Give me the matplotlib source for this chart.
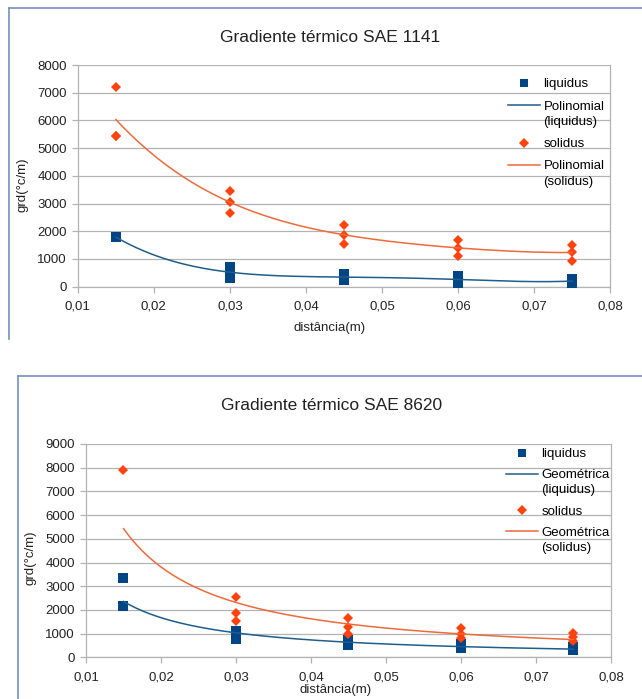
import matplotlib
matplotlib.use('Agg')
import matplotlib.pyplot as plt
import matplotlib.transforms as mtransforms
from matplotlib.legend_handler import HandlerLine2D
from matplotlib.lines import Line2D
from matplotlib.ticker import FuncFormatter
import numpy as np

plt.rcParams['font.family'] = ['Liberation Sans', 'DejaVu Sans']

# SAE 1141 (polynomial trend)
x1_liq = [0.015, 0.015, 0.015, 0.03, 0.03, 0.03, 0.045, 0.045, 0.045, 0.06, 0.06, 0.06, 0.075, 0.075, 0.075]
y1_liq = [1800, 1790, 1780, 330, 520, 720, 230, 350, 460, 130, 280, 370, 100, 220, 290]
x1_sol = [0.015, 0.015, 0.015, 0.03, 0.03, 0.03, 0.045, 0.045, 0.045, 0.06, 0.06, 0.06, 0.075, 0.075, 0.075]
y1_sol = [7200, 5450, 5450, 3450, 3050, 2650, 2220, 1860, 1540, 1690, 1390, 1120, 1490, 1270, 940]

# SAE 8620 (geometric / power trend)
x2_liq = [0.015, 0.015, 0.03, 0.03, 0.03, 0.045, 0.045, 0.045, 0.06, 0.06, 0.06, 0.075, 0.075, 0.075]
y2_liq = [3350, 2150, 760, 900, 1100, 500, 600, 720, 380, 470, 550, 310, 380, 440]
x2_sol = [0.015, 0.03, 0.03, 0.03, 0.045, 0.045, 0.045, 0.06, 0.06, 0.06, 0.075, 0.075, 0.075]
y2_sol = [7900, 2535, 1890, 1535, 1660, 1280, 1000, 1240, 1000, 800, 1020, 850, 700]

x_ticks = [0.01, 0.02, 0.03, 0.04, 0.05, 0.06, 0.07, 0.08]

BLUE = '#004586'
ORANGE = '#ff420e'
BLUE_T = '#1f5d8c'
ORANGE_T = '#ee6a3a'
GRID = '#b3b3b3'
FRAME = '#7390c0'

W, H = 642, 699
fig = plt.figure(figsize=(W / 100, H / 100), dpi=100)


def fx(px):
    return px / W


def fy(py):
    return 1 - py / H


class HandlerUp(HandlerLine2D):
    # put the trend line handle next to the first line of a two-line label
    def create_artists(self, legend, orig_handle, xdescent, ydescent, width, height, fontsize, trans):
        arts = super().create_artists(legend, orig_handle, xdescent, ydescent, width, height, fontsize, trans)
        shift = mtransforms.Affine2D().translate(0, 0.66 * fontsize)
        for a in arts:
            a.set_transform(shift + trans)
        return arts


def trend_poly(x, y, deg=4):
    c = np.polyfit(x, y, deg)
    xs = np.linspace(min(x), max(x), 200)
    return xs, np.polyval(c, xs)


def trend_power(x, y):
    b, a = np.polyfit(np.log(x), np.log(y), 1)
    xs = np.linspace(min(x), max(x), 200)
    return xs, np.exp(a) * xs ** b


def make_chart(rect, xl, yl, xs, ys, trend, ymax, trend_name, leg_xy, leg_space):
    ax = fig.add_axes(rect)
    ax.plot(xl, yl, 's', color=BLUE, ms=7.2, mew=0, zorder=3)
    tx, ty = trend(xl, yl)
    ax.plot(tx, ty, color=BLUE_T, lw=1.1, zorder=4)
    ax.plot(xs, ys, 'D', color=ORANGE, ms=5.0, mew=0, zorder=3)
    tx, ty = trend(xs, ys)
    ax.plot(tx, ty, color=ORANGE_T, lw=1.1, zorder=4)

    ax.set_xlim(0.01, 0.08)
    ax.set_ylim(0, ymax)
    ax.set_xticks(x_ticks)
    ax.set_yticks(range(0, ymax + 1, 1000))
    ax.xaxis.set_major_formatter(FuncFormatter(lambda v, p: f'{v:.2f}'.replace('.', ',')))
    ax.grid(axis='y', color=GRID, lw=0.9)
    ax.set_axisbelow(True)
    for s in ['left', 'bottom', 'right']:
        ax.spines[s].set_color(GRID)
        ax.spines[s].set_linewidth(0.9)
    ax.spines['top'].set_visible(False)
    ax.tick_params(colors=GRID, labelcolor='#222222', labelsize=9.5, length=4, width=0.9, pad=4)
    ax.tick_params(axis='x', pad=6)

    handles = [
        Line2D([], [], ls='none', marker='s', color=BLUE, ms=6, mew=0),
        Line2D([], [], color=BLUE_T, lw=1.1),
        Line2D([], [], ls='none', marker='D', color=ORANGE, ms=5, mew=0),
        Line2D([], [], color=ORANGE_T, lw=1.1),
    ]
    labels = ['liquidus', trend_name + '\n(liquidus)', 'solidus', trend_name + '\n(solidus)']
    up = HandlerUp()
    leg = fig.legend(handles, labels, loc='upper left', bbox_to_anchor=leg_xy, frameon=False,
                     fontsize=9.5, handlelength=2.4, handletextpad=0.3, labelspacing=leg_space,
                     borderpad=0, borderaxespad=0,
                     handler_map={handles[1]: up, handles[3]: up})
    for t in leg.get_texts():
        t.set_linespacing(1.35)
    return ax


# top chart
make_chart([fx(77.8), fy(286.7), (610.2 - 77.8) / W, (286.7 - 65) / H],
           x1_liq, y1_liq, x1_sol, y1_sol, trend_poly, 8000, 'Polinomial',
           (fx(508), fy(78)), 0.78)
fig.text(fx(330), fy(38), 'Gradiente térmico SAE 1141', ha='center', va='center', fontsize=12.5, color='#222222')
fig.text(fx(22.5), fy(185), 'grd(°c/m)', rotation=90, ha='center', va='center', fontsize=9.5, color='#222222')
fig.text(fx(330), fy(328), 'distância(m)', ha='center', va='center', fontsize=9.5, color='#222222')

# bottom chart
make_chart([fx(86), fy(657.3), (611 - 86) / W, (657.3 - 444) / H],
           x2_liq, y2_liq, x2_sol, y2_sol, trend_power, 9000, 'Geométrica',
           (fx(506), fy(448)), 0.68)
fig.text(fx(332), fy(406), 'Gradiente térmico SAE 8620', ha='center', va='center', fontsize=12.5, color='#222222')
fig.text(fx(30.7), fy(558), 'grd(°c/m)', rotation=90, ha='center', va='center', fontsize=9.5, color='#222222')
fig.text(fx(336), fy(690.5), 'distância(m)', ha='center', va='center', fontsize=9.5, color='#222222')

# panel frames
fig.add_artist(Line2D([fx(9), fx(9)], [fy(8), fy(339)], color=FRAME, lw=1.2))
fig.add_artist(Line2D([fx(9), 1], [fy(8), fy(8)], color=FRAME, lw=1.2))
fig.add_artist(Line2D([fx(18), fx(18)], [fy(376), 0], color=FRAME, lw=1.2))
fig.add_artist(Line2D([fx(18), 1], [fy(376), fy(376)], color=FRAME, lw=1.2))

fig.savefig('out.png', dpi=100, facecolor='white')
